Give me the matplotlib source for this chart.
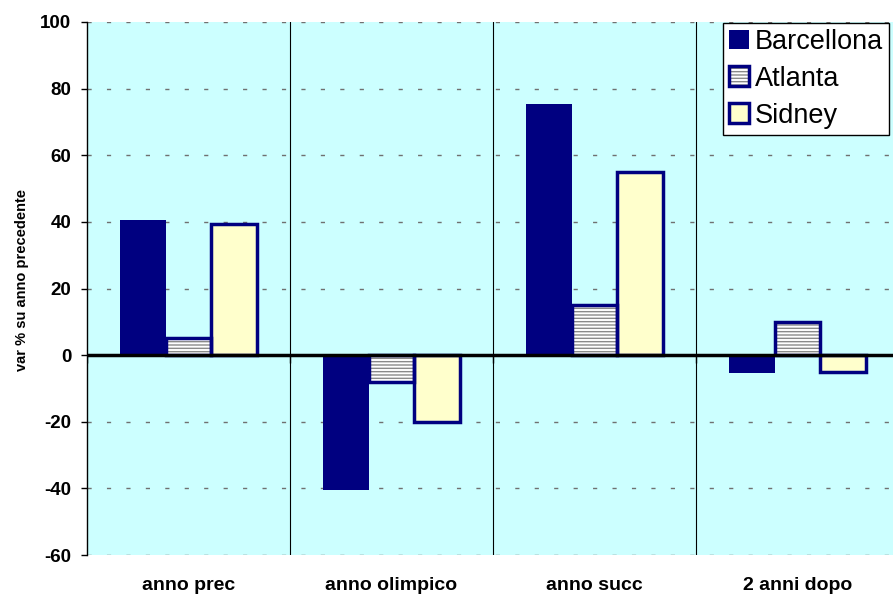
import matplotlib
matplotlib.use("Agg")
import matplotlib.pyplot as plt
import matplotlib.patches as mpatches
import numpy as np

categories = ["anno prec", "anno olimpico", "anno succ", "2 anni dopo"]
barcellona = [40.5, -40.5, 75.5, -5.5]
atlanta = [5, -8, 15, 10]
sidney = [39.5, -20, 55, -5]
series_names = ["Barcellona", "Atlanta", "Sidney"]
yticks = [-60, -40, -20, 0, 20, 40, 60, 80, 100]

navy = "#000080"
bg = "#CCFFFF"
cream = "#FFFFCC"
font = "Liberation Sans"

fig = plt.figure(figsize=(8.93, 5.95), dpi=100)
ax = fig.add_axes([87 / 893, 1 - 555 / 595, 812 / 893, 533 / 595])
ax.set_facecolor(bg)

x = np.arange(len(categories))
w = 0.225

# grid
for yv in yticks:
    ax.axhline(yv, color="#707070", lw=1.0, linestyle=(0, (3, 11)), zorder=1)
for b in [0.5, 1.5, 2.5]:
    ax.axvline(b, color="black", lw=0.8, zorder=1)

ax.bar(x - w, barcellona, w, color=navy, edgecolor=navy, lw=0, zorder=3)
ax.bar(x, atlanta, w, color="white", edgecolor="#8a8a8a", hatch="-----", lw=0, zorder=3)
ax.bar(x, atlanta, w, fill=False, edgecolor=navy, lw=2.5, zorder=4)
ax.bar(x + w, sidney, w, color=cream, edgecolor=navy, lw=2.5, zorder=3)

ax.axhline(0, color="black", lw=2.5, zorder=5)
ax.plot([-0.5, 0.5, 1.5, 2.5], [0, 0, 0, 0], linestyle="none", marker=3,
        markersize=6, color="black", mew=1, zorder=5)

ax.set_xlim(-0.5, 3.5)
ax.set_ylim(-60, 100)
ax.set_yticks(yticks)
ax.set_yticklabels([str(v) for v in yticks], fontsize=13.5, fontweight="bold", family=font)
ax.tick_params(axis="y", direction="out", length=4.3, width=1, pad=7)
ax.set_xticks(x)
ax.set_xticklabels(categories, fontsize=14, fontweight="bold", family=font)
ax.tick_params(axis="x", length=0, pad=16)
for s in ["top", "right", "bottom"]:
    ax.spines[s].set_visible(False)
ax.spines["left"].set_linewidth(1)
ax.spines["left"].set_zorder(6)

ax.set_ylabel("var % su anno precedente", fontsize=10.5, fontweight="bold", family=font)
ax.yaxis.set_label_coords(22 / 893, 1 - 280 / 595, transform=fig.transFigure)
ax.yaxis.label.set_va("center")
ax.yaxis.label.set_ha("center")

h1 = mpatches.Patch(facecolor=navy, edgecolor=navy, lw=0)
h2a = mpatches.Patch(facecolor="white", edgecolor="#8a8a8a", hatch="-----", lw=0)
h2b = mpatches.Patch(fill=False, edgecolor=navy, lw=2.5)
h3 = mpatches.Patch(facecolor=cream, edgecolor=navy, lw=2.5)
leg = ax.legend([h1, (h2a, h2b), h3], series_names, loc="upper left",
                bbox_to_anchor=(723 / 893, 1 - 23 / 595), bbox_transform=fig.transFigure,
                prop={"family": font, "size": 19.5}, frameon=True,
                fancybox=False, edgecolor="black", framealpha=1, borderpad=0.22,
                handlelength=0.75, handleheight=0.75, handletextpad=0.2,
                labelspacing=0.4, borderaxespad=0)
leg.get_frame().set_linewidth(1)
leg.set_zorder(10)

fig.savefig("out.png", dpi=100)
